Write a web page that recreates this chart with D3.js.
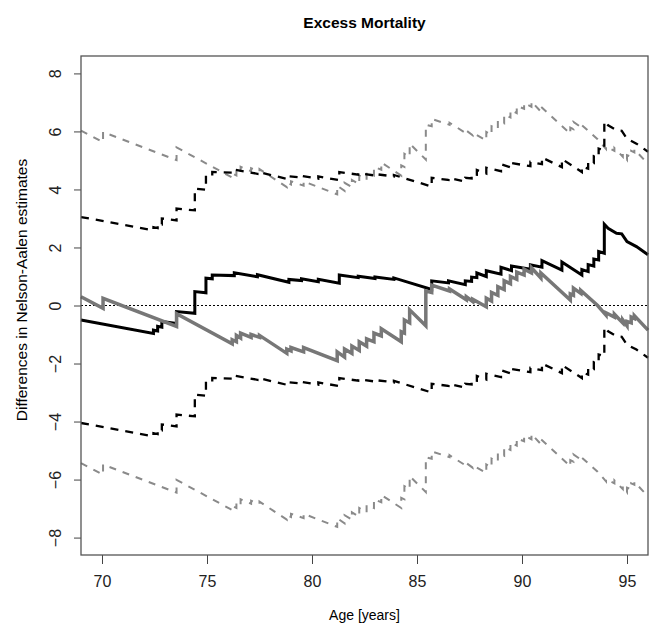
<!DOCTYPE html>
<html>
<head>
<meta charset="utf-8">
<script src="https://cdn.jsdelivr.net/npm/d3@7"></script>
<style>
  body { margin: 0; background: #fff; }
  svg { font-family: "Liberation Sans", Arial, Helvetica, sans-serif; }
</style>
</head>
<body>
<div id="plot"></div>
<script>
// group A (black): jump times and estimates, with pointwise bands
var agesA = [69.00, 72.45, 72.45, 72.65, 72.65, 72.85, 72.85, 73.55, 73.55, 74.42, 74.42, 74.95, 74.95, 75.25, 75.25,
  76.30, 76.30, 77.40, 77.40, 78.90, 78.90, 79.50, 79.50, 80.30, 80.30, 81.30, 81.30, 82.20, 82.20, 83.00, 83.00,
  83.90, 83.90, 85.70, 85.70, 86.50, 86.50, 87.30, 87.30, 87.60, 87.60, 87.85, 87.85, 88.30, 88.30, 89.00, 89.00,
  89.50, 89.50, 90.40, 90.40, 90.95, 90.95, 91.90, 91.90, 92.85, 92.85, 93.15, 93.15, 93.42, 93.42, 93.65, 93.65,
  93.92, 93.92, 94.10, 94.50, 94.75, 95.00, 95.45, 96.00];
var estA = [-0.50, -0.96, -0.85, -0.88, -0.72, -0.75, -0.55, -0.62, -0.21, -0.27, 0.48, 0.44, 0.94, 0.92, 1.05,
  1.03, 1.13, 0.99, 1.06, 0.80, 0.90, 0.86, 0.92, 0.82, 0.90, 0.77, 1.05, 0.96, 1.01, 0.93, 0.98,
  0.90, 0.95, 0.55, 0.85, 0.78, 0.85, 0.72, 0.85, 0.83, 0.98, 0.96, 1.12, 1.00, 1.20, 1.08, 1.32,
  1.20, 1.36, 1.25, 1.40, 1.32, 1.55, 1.22, 1.50, 1.05, 1.24, 1.17, 1.41, 1.36, 1.60, 1.57, 1.86,
  1.80, 2.80, 2.66, 2.49, 2.47, 2.20, 2.03, 1.75];
var upA = [3.05, 2.59, 2.70, 2.67, 2.83, 2.80, 3.00, 2.93, 3.34, 3.28, 4.03, 3.99, 4.49, 4.47, 4.60,
  4.58, 4.68, 4.54, 4.61, 4.35, 4.45, 4.41, 4.47, 4.37, 4.45, 4.32, 4.60, 4.51, 4.56, 4.48, 4.53,
  4.45, 4.50, 4.10, 4.40, 4.33, 4.40, 4.27, 4.40, 4.38, 4.53, 4.51, 4.67, 4.55, 4.75, 4.63, 4.87,
  4.75, 4.91, 4.80, 4.95, 4.87, 5.10, 4.77, 5.05, 4.60, 4.79, 4.72, 4.96, 4.91, 5.15, 5.12, 5.41,
  5.35, 6.35, 6.21, 6.04, 6.02, 5.75, 5.58, 5.30];
var loA = [-4.05, -4.51, -4.40, -4.43, -4.27, -4.30, -4.10, -4.17, -3.76, -3.82, -3.07, -3.11, -2.61, -2.63, -2.50,
  -2.52, -2.42, -2.56, -2.49, -2.75, -2.65, -2.69, -2.63, -2.73, -2.65, -2.78, -2.50, -2.59, -2.54, -2.62, -2.57,
  -2.65, -2.60, -3.00, -2.70, -2.77, -2.70, -2.83, -2.70, -2.72, -2.57, -2.59, -2.43, -2.55, -2.35, -2.47, -2.23,
  -2.35, -2.19, -2.30, -2.15, -2.23, -2.00, -2.33, -2.05, -2.50, -2.31, -2.38, -2.14, -2.19, -1.95, -1.98, -1.69,
  -1.75, -0.75, -0.89, -1.06, -1.08, -1.35, -1.52, -1.80];

// group B (grey)
var agesB = [69.00, 70.05, 70.05, 73.55, 73.55, 76.20, 76.20, 76.40, 76.40, 76.60, 76.60, 77.10, 77.10, 77.50, 77.50,
  78.80, 78.80, 79.00, 79.00, 79.60, 79.60, 81.20, 81.20, 81.55, 81.55, 81.90, 81.90, 82.25, 82.25, 82.60, 82.60,
  82.95, 82.95, 83.30, 83.30, 84.25, 84.25, 84.40, 84.40, 84.65, 84.65, 85.42, 85.42, 85.70, 85.70, 86.55, 86.55,
  87.35, 87.35, 87.65, 87.65, 88.30, 88.30, 88.55, 88.55, 88.85, 88.85, 89.15, 89.15, 89.45, 89.45, 89.75, 89.75,
  90.10, 90.10, 90.45, 90.45, 90.90, 90.90, 92.30, 92.30, 92.45, 92.45, 92.80, 92.80, 93.60, 94.00, 94.00, 94.40,
  94.40, 94.80, 94.80, 95.00, 95.00, 95.20, 95.20, 95.35, 95.35, 96.00];
var estB = [0.30, -0.10, 0.25, -0.72, -0.28, -1.32, -1.18, -1.25, -1.03, -1.12, -0.95, -1.10, -1.00, -1.10, -1.03,
  -1.65, -1.50, -1.56, -1.45, -1.60, -1.45, -1.90, -1.60, -1.78, -1.50, -1.65, -1.40, -1.55, -1.25, -1.40, -1.15,
  -1.25, -0.95, -1.05, -0.80, -1.25, -0.90, -0.95, -0.50, -0.60, -0.15, -0.70, 0.50, 0.45, 0.70, 0.50, 0.57,
  0.20, 0.30, 0.14, 0.22, -0.04, 0.25, 0.15, 0.45, 0.35, 0.65, 0.55, 0.85, 0.75, 1.00, 0.90, 1.15,
  1.05, 1.25, 1.12, 1.30, 0.95, 1.12, 0.19, 0.40, 0.35, 0.60, 0.42, 0.52, 0.00, -0.33, -0.25, -0.40,
  -0.30, -0.60, -0.50, -0.70, -0.55, -0.60, -0.40, -0.45, -0.35, -0.85];
var upB = [6.03, 5.63, 5.98, 5.01, 5.45, 4.41, 4.55, 4.48, 4.70, 4.61, 4.78, 4.63, 4.73, 4.63, 4.70,
  4.08, 4.23, 4.17, 4.28, 4.13, 4.28, 3.83, 4.13, 3.95, 4.23, 4.08, 4.33, 4.18, 4.48, 4.33, 4.58,
  4.48, 4.78, 4.68, 4.93, 4.48, 4.83, 4.78, 5.23, 5.13, 5.58, 5.03, 6.23, 6.18, 6.43, 6.23, 6.30,
  5.93, 6.03, 5.87, 5.95, 5.69, 5.98, 5.88, 6.18, 6.08, 6.38, 6.28, 6.58, 6.48, 6.73, 6.63, 6.88,
  6.78, 6.98, 6.85, 7.03, 6.68, 6.85, 5.92, 6.13, 6.08, 6.33, 6.15, 6.25, 5.73, 5.40, 5.48, 5.33,
  5.43, 5.13, 5.23, 5.03, 5.18, 5.13, 5.33, 5.28, 5.38, 4.88];
var loB = [-5.43, -5.83, -5.48, -6.45, -6.01, -7.05, -6.91, -6.98, -6.76, -6.85, -6.68, -6.83, -6.73, -6.83, -6.76,
  -7.38, -7.23, -7.29, -7.18, -7.33, -7.18, -7.63, -7.33, -7.51, -7.23, -7.38, -7.13, -7.28, -6.98, -7.13, -6.88,
  -6.98, -6.68, -6.78, -6.53, -6.98, -6.63, -6.68, -6.23, -6.33, -5.88, -6.43, -5.23, -5.28, -5.03, -5.23, -5.16,
  -5.53, -5.43, -5.59, -5.51, -5.77, -5.48, -5.58, -5.28, -5.38, -5.08, -5.18, -4.88, -4.98, -4.73, -4.83, -4.58,
  -4.68, -4.48, -4.61, -4.43, -4.78, -4.61, -5.54, -5.33, -5.38, -5.13, -5.31, -5.21, -5.73, -6.06, -5.98, -6.13,
  -6.03, -6.33, -6.23, -6.43, -6.28, -6.33, -6.13, -6.18, -6.08, -6.58];

var xTicks = [70, 75, 80, 85, 90, 95];
var yTicks = [-8, -6, -4, -2, 0, 2, 4, 6, 8];

var W = 654, H = 624;
var margin = {top: 56, right: 6, bottom: 69, left: 81};
var width = W - margin.left - margin.right,
    height = H - margin.top - margin.bottom;

var svg = d3.select("#plot").append("svg")
    .attr("width", W)
    .attr("height", H);
var g = svg.append("g")
    .attr("transform", `translate(${margin.left},${margin.top})`);

var x = d3.scaleLinear().domain([69, 96]).range([0, width]);
var y = d3.scaleLinear().domain([-8.6, 8.6]).range([height, 0]);

// axes, R style
var xAxis = g.append("g")
    .attr("transform", `translate(0,${height})`)
    .call(d3.axisBottom(x).tickValues(xTicks).tickSize(9).tickFormat(d3.format("d")));
xAxis.select(".domain").remove();
xAxis.selectAll("line").attr("stroke", "#444");
xAxis.selectAll("text")
    .attr("y", 31.5).attr("dy", 0)
    .attr("fill", "#222")
    .style("font-size", "16px");

var yAxis = g.append("g")
    .call(d3.axisLeft(y).tickValues(yTicks).tickSize(7).tickFormat(d3.format("d")));
yAxis.select(".domain").remove();
yAxis.selectAll("line").attr("stroke", "#444");
yAxis.selectAll("text")
    .attr("transform", "rotate(-90)")
    .attr("x", 0).attr("y", -20).attr("dy", 0)
    .attr("text-anchor", "middle")
    .attr("fill", "#222")
    .style("font-size", "16px");

// reference line at zero
g.append("line")
    .attr("x1", 0).attr("x2", width)
    .attr("y1", y(0)).attr("y2", y(0))
    .attr("stroke", "#000")
    .attr("stroke-width", 1)
    .attr("stroke-dasharray", "2,2");

var line = d3.line()
    .x(d => x(d[0]))
    .y(d => y(d[1]));

function pairs(ages, vals) {
  return ages.map((a, i) => [a, vals[i]]);
}

var series = [
  {ages: agesB, vals: upB, color: "#8a8a8a", w: 2, dash: "7,7"},
  {ages: agesB, vals: loB, color: "#8a8a8a", w: 2, dash: "7,7"},
  {ages: agesA, vals: upA, color: "#000", w: 2.3, dash: "8,7"},
  {ages: agesA, vals: loA, color: "#000", w: 2.3, dash: "8,7"},
  {ages: agesA, vals: estA, color: "#000", w: 3, dash: null},
  {ages: agesB, vals: estB, color: "#777", w: 3.5, dash: null}
];

g.selectAll("path.curve")
  .data(series)
  .join("path")
    .attr("class", "curve")
    .attr("d", s => line(pairs(s.ages, s.vals)))
    .attr("fill", "none")
    .attr("stroke", s => s.color)
    .attr("stroke-width", s => s.w)
    .attr("stroke-linejoin", "miter")
    .attr("stroke-dasharray", s => s.dash);

// box
g.append("rect")
    .attr("x", 0).attr("y", 0)
    .attr("width", width).attr("height", height)
    .attr("fill", "none")
    .attr("stroke", "#555")
    .attr("stroke-width", 1.3);

// titles
svg.append("text")
    .attr("x", margin.left + width / 2)
    .attr("y", 28)
    .attr("text-anchor", "middle")
    .style("font-size", "15.5px")
    .style("font-weight", "bold")
    .text("Excess Mortality");

svg.append("text")
    .attr("x", margin.left + width / 2)
    .attr("y", 620)
    .attr("text-anchor", "middle")
    .style("font-size", "14px")
    .text("Age [years]");

svg.append("text")
    .attr("transform", "translate(27,290) rotate(-90)")
    .attr("text-anchor", "middle")
    .style("font-size", "15.5px")
    .text("Differences in Nelson-Aalen estimates");
</script>
</body>
</html>
